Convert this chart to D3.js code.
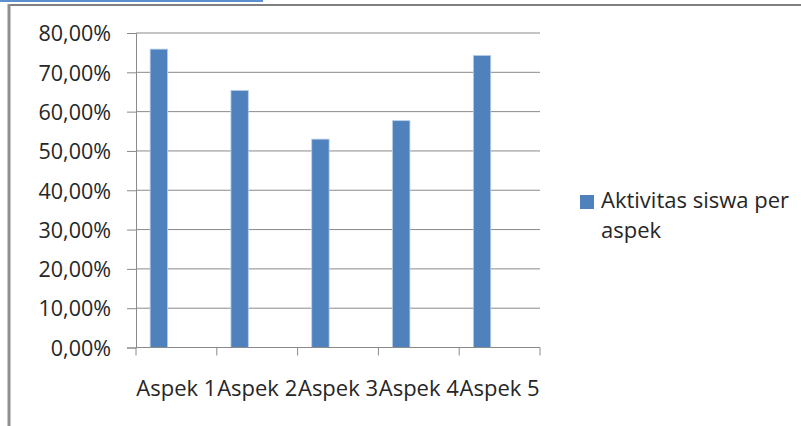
<!DOCTYPE html>
<html lang="en">
<head>
    <meta charset="UTF-8">
    <title>Aktivitas siswa per aspek</title>
    <script src="https://d3js.org/d3.v7.min.js"></script>
    <style>
        body{ margin:0; background:#fff; }
        text{ font-family: "Open Sans", sans-serif; fill:#262626; }
        g.axis path, g.axis line{ stroke:#8a8a8a; }
    </style>
</head>
<body>
<svg width="801" height="426"></svg>
<script>
    // data
    let categories = ["Aspek 1", "Aspek 2", "Aspek 3", "Aspek 4", "Aspek 5"];
    let values = [0.759, 0.654, 0.530, 0.577, 0.743];
    let yTicks = [0, 0.1, 0.2, 0.3, 0.4, 0.5, 0.6, 0.7, 0.8];
    let seriesName = ["Aktivitas siswa per", "aspek"];

    const svg = d3.select("svg");
    const plotLeft = 136, plotRight = 540, plotTop = 33, plotBottom = 347.5;

    // frame of the embedded chart
    svg.append("rect").attr("x", 0).attr("y", 0).attr("width", 263).attr("height", 2).attr("fill", "#5b8fd0");
    svg.append("line").attr("x1", 8).attr("x2", 801).attr("y1", 5).attr("y2", 5)
        .attr("stroke", "#7f7f7f").attr("stroke-width", 2);
    svg.append("line").attr("x1", 9).attr("x2", 9).attr("y1", 4).attr("y2", 426)
        .attr("stroke", "#8f8f8f").attr("stroke-width", 3);

    let x = d3.scaleBand().domain(categories).range([plotLeft, plotRight]).padding(0);
    let y = d3.scaleLinear().domain([0, 0.8]).range([plotBottom, plotTop]);

    let fmt = d => d3.format(".2f")(d * 100).replace(".", ",") + "%";

    // gridlines
    svg.append("g").selectAll("line").data(yTicks.slice(1)).join("line")
        .attr("x1", plotLeft).attr("x2", plotRight)
        .attr("y1", d => y(d)).attr("y2", d => y(d))
        .attr("stroke", "#8a8a8a").attr("stroke-width", 1);

    // y axis
    let yAxis = svg.append("g").attr("class", "axis")
        .attr("transform", `translate(${plotLeft},0)`)
        .call(d3.axisLeft(y).tickValues(yTicks).tickFormat(fmt).tickSizeOuter(0).tickSize(9).tickPadding(16));
    yAxis.selectAll("text").style("font-size", "21.5px").attr("dy", "0.36em");

    // bars
    let bw = x.bandwidth();
    svg.append("g").selectAll("rect").data(values).join("rect")
        .attr("x", (d, i) => x(categories[i]) + bw * 0.175)
        .attr("width", bw * 0.215)
        .attr("y", d => y(d))
        .attr("height", d => y(0) - y(d))
        .attr("fill", "#4f81bd")
        .attr("stroke", "#b9cde8").attr("stroke-width", 0.8);

    // x axis with ticks at category boundaries
    let xAxis = svg.append("g").attr("class", "axis")
        .attr("transform", `translate(0,${plotBottom})`);
    xAxis.append("line").attr("x1", plotLeft).attr("x2", plotRight).attr("y1", 0).attr("y2", 0);
    xAxis.selectAll("line.tick").data(d3.range(categories.length + 1)).join("line")
        .attr("class", "tick")
        .attr("x1", i => plotLeft + i * bw).attr("x2", i => plotLeft + i * bw)
        .attr("y1", 0).attr("y2", 8);
    xAxis.selectAll("text").data(categories).join("text")
        .attr("x", d => x(d) + bw / 2)
        .attr("y", 48)
        .attr("text-anchor", "middle")
        .style("font-size", "22px")
        .text(d => d);

    // legend
    let legend = svg.append("g").attr("transform", "translate(580,195)");
    legend.append("rect").attr("width", 14).attr("height", 14).attr("fill", "#4f81bd");
    legend.selectAll("text").data(seriesName).join("text")
        .attr("x", 21).attr("y", (d, i) => 13 + i * 30)
        .style("font-size", "22px")
        .text(d => d);
</script>
</body>
</html>
